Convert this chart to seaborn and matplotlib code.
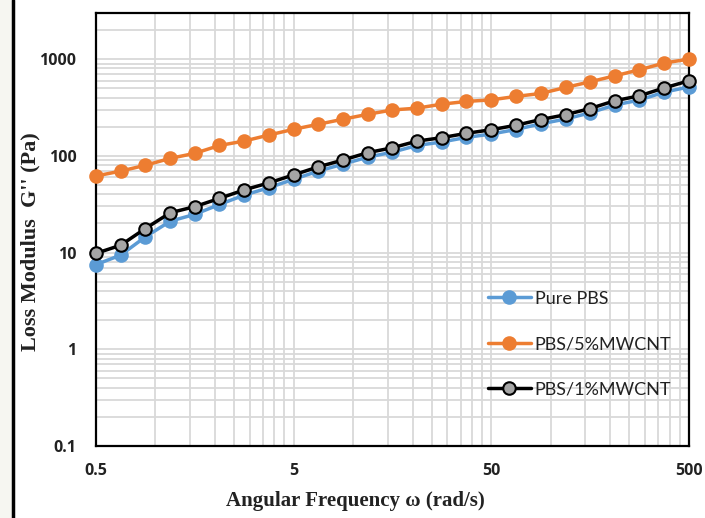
import matplotlib
matplotlib.use("Agg")
import matplotlib.pyplot as plt
import matplotlib.ticker as mticker
import numpy as np
import pandas as pd
import seaborn as sns

sns.set_theme()
sns.set_style('white')

# angular frequency (rad/s), 8 points per decade
freq = [0.5, 0.667, 0.889, 1.19, 1.58, 2.11, 2.81, 3.75, 5.0, 6.67, 8.89, 11.9, 15.8,
        21.1, 28.1, 37.5, 50.0, 66.7, 88.9, 119, 158, 211, 281, 375, 500]

pure_pbs = [7.5, 9.4, 14.5, 21.1, 24.8, 31.4, 39.2, 46.8, 57.1, 69.5, 82, 97, 109,
            128, 139, 155, 168, 187, 214, 240, 278, 335, 377, 455, 515]
pbs_5mwcnt = [61.8, 69.5, 79.8, 94.2, 106, 128, 142, 164, 188, 212, 239, 269, 298,
              311, 342, 365, 379, 411, 441, 509, 582, 671, 775, 910, 1000]
pbs_1mwcnt = [9.8, 11.9, 17.7, 25.8, 29.8, 36.3, 44.4, 52.5, 63.5, 76.9, 90.4, 108, 121,
              142, 154, 171, 186, 207, 237, 266, 308, 371, 417, 503, 596]

x_ticks = [0.5, 5, 50, 500]
x_tick_labels = ['0.5', '5', '50', '500']
y_ticks = [0.1, 1, 10, 100, 1000]
y_tick_labels = ['0.1', '1', '10', '100', '1000']

fig = plt.figure(figsize=(7.05, 5.18), dpi=100)
fig.patch.set_facecolor('white')
ax = fig.add_axes([0.136, 0.139, 0.841, 0.836])

series = [
    (pure_pbs, 'Pure PBS', '#5B9BD5', '#5B9BD5', '#5B9BD5'),
    (pbs_5mwcnt, 'PBS/5%MWCNT', '#ED7D31', '#ED7D31', '#ED7D31'),
    (pbs_1mwcnt, 'PBS/1%MWCNT', '#000000', '#A5A5A5', '#000000'),
]
for vals, name, lc, mfc, mec in series:
    df = pd.DataFrame({'freq': freq, 'G2': vals})
    sns.lineplot(data=df, x='freq', y='G2', ax=ax, color=lc, linewidth=2.5,
                 marker='o', markersize=9, markerfacecolor=mfc, markeredgecolor=mec,
                 markeredgewidth=1.5, label=name, clip_on=False, zorder=3)

ax.set_xscale('log')
ax.set_yscale('log')
ax.set_xlim(0.5, 500)
ax.set_ylim(0.1, 3000)

ax.xaxis.set_major_locator(mticker.FixedLocator(x_ticks))
ax.xaxis.set_major_formatter(mticker.FixedFormatter(x_tick_labels))
ax.xaxis.set_minor_locator(mticker.LogLocator(base=10, subs=np.arange(1, 10) * 0.5, numticks=20))
ax.xaxis.set_minor_formatter(mticker.NullFormatter())
ax.yaxis.set_major_locator(mticker.FixedLocator(y_ticks))
ax.yaxis.set_major_formatter(mticker.FixedFormatter(y_tick_labels))
ax.yaxis.set_minor_locator(mticker.LogLocator(base=10, subs=np.arange(2, 10), numticks=20))
ax.yaxis.set_minor_formatter(mticker.NullFormatter())

ax.grid(True, which='both', color='#d9d9d9', linewidth=1.3)
ax.set_axisbelow(True)
for sp in ax.spines.values():
    sp.set_color('black')
    sp.set_linewidth(1.6)

ax.tick_params(axis='both', which='both', length=0)
ax.tick_params(axis='x', pad=12)
ax.tick_params(axis='y', pad=14)
for lab in ax.get_xticklabels() + ax.get_yticklabels():
    lab.set_fontfamily('Open Sans')
    lab.set_fontweight('bold')
    lab.set_fontsize(11.5)
    lab.set_color('#222222')

ax.set_xlabel('Angular Frequency ω (rad/s)', family='Liberation Serif', fontweight='bold',
              fontsize=15, color='#222222')
ax.set_ylabel("Loss Modulus  G'' (Pa)", family='Liberation Serif', fontweight='bold',
              fontsize=16, color='#222222')
ax.xaxis.set_label_coords(0.437, -0.105)
ax.yaxis.set_label_coords(-0.094, 0.473)

leg = ax.legend(loc='lower right', bbox_to_anchor=(0.998, 0.075), frameon=False,
                prop={'family': 'Lato', 'size': 13}, labelspacing=1.62,
                handlelength=2.4, handletextpad=0.2, numpoints=1)
for t in leg.get_texts():
    t.set_color('#222222')

# left edge strip of the original screenshot
fig.add_artist(plt.Rectangle((0, 0), 0.018, 1, transform=fig.transFigure,
                             facecolor='#f6f6f1', edgecolor='none'))
fig.add_artist(plt.Line2D([0.019, 0.019], [0, 1], transform=fig.transFigure,
                          color='black', linewidth=2.5))

fig.savefig('out.png', dpi=100)
